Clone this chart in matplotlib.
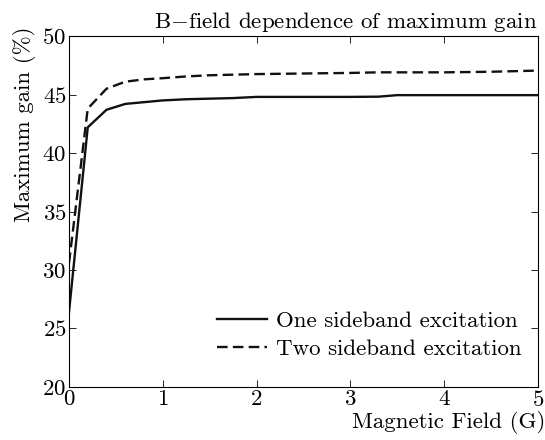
import matplotlib
matplotlib.use('Agg')
import matplotlib.pyplot as plt

field = [0, 0.2, 0.4, 0.6, 0.8, 1.0, 1.25, 1.5, 1.75, 2.0, 2.5, 3.0, 3.3, 3.5, 4.0, 4.5, 5.0]
one_sideband = [26.4, 42.2, 43.7, 44.2, 44.35, 44.5, 44.6, 44.65, 44.7, 44.8, 44.8, 44.8,
                44.82, 44.95, 44.95, 44.95, 44.95]
two_sideband = [30.6, 43.8, 45.5, 46.1, 46.3, 46.4, 46.55, 46.65, 46.7, 46.75, 46.8, 46.85,
                46.9, 46.9, 46.9, 46.95, 47.05]
xticks = [0, 1, 2, 3, 4, 5]
yticks = [20, 25, 30, 35, 40, 45, 50]

plt.rcParams['font.family'] = 'serif'
plt.rcParams['font.serif'] = ['cmr10']
plt.rcParams['mathtext.fontset'] = 'cm'
plt.rcParams['axes.unicode_minus'] = False
plt.rcParams['axes.formatter.use_mathtext'] = True

fs = 16.5

fig = plt.figure(figsize=(5.45, 4.4), dpi=100)
ax = fig.add_axes([0.1266, 0.1205, 0.8604, 0.7975])

ax.plot(field, one_sideband, color='#111111', linewidth=1.7, label='One sideband excitation')
ax.plot(field, two_sideband, color='#111111', linewidth=1.7, linestyle=(0, (4.5, 2.2)),
        label='Two sideband excitation')

ax.set_xlim(0, 5)
ax.set_ylim(20, 50)
ax.set_xticks(xticks)
ax.set_yticks(yticks)
ax.tick_params(direction='in', length=5, width=0.6, top=True, right=True,
               labelsize=fs, pad=2)
for sp in ax.spines.values():
    sp.set_linewidth(0.8)

ax.set_title('B$-$field dependence of maximum gain', loc='right', fontsize=fs, pad=6)
ax.set_xlabel('Magnetic Field (G)', fontsize=fs, ha='right', va='top')
ax.xaxis.set_label_coords(1.015, -0.068)
ax.set_ylabel('Maximum gain (%)', fontsize=fs, va='center')
ax.yaxis.set_label_coords(-0.094, 0.749)

ax.legend(loc='lower right', frameon=False, fontsize=fs, handlelength=2.2,
          handletextpad=0.4, borderaxespad=0.0, bbox_to_anchor=(0.985, 0.054),
          labelspacing=0.35)

fig.savefig('out.png', dpi=100)
